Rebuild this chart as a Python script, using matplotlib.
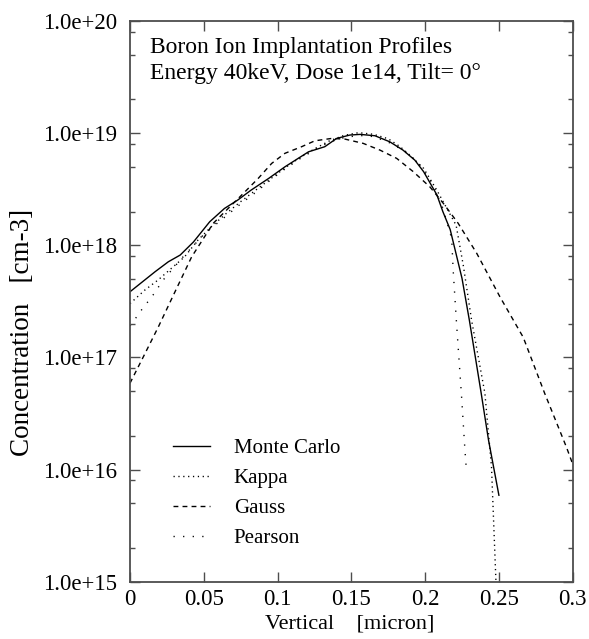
import numpy as np
import matplotlib
matplotlib.use("Agg")
import matplotlib.pyplot as plt
from matplotlib.ticker import LogLocator, FuncFormatter, MultipleLocator

plt.rcParams['font.family'] = ['Liberation Serif', 'DejaVu Serif']

# depth [micron] and concentration [cm-3]
mc_x = [0.000, 0.017, 0.026, 0.034, 0.043, 0.054, 0.064, 0.073, 0.082, 0.094,
        0.105, 0.121, 0.132, 0.140, 0.149, 0.156, 0.166, 0.176, 0.185, 0.193,
        0.199, 0.208, 0.212, 0.217, 0.225, 0.230, 0.238, 0.243, 0.250]
mc_c = [3.85e17, 5.81e17, 7.13e17, 8.18e17, 1.07e18, 1.62e18, 2.13e18, 2.53e18, 3.10e18, 3.95e18,
        5.01e18, 6.82e18, 7.57e18, 8.97e18, 9.62e18, 9.75e18, 9.48e18, 8.38e18, 7.06e18, 5.75e18,
        4.53e18, 2.81e18, 2.00e18, 1.38e18, 5.07e17, 2.14e17, 4.79e16, 1.82e16, 5.9e15]

kappa_x = [0.000, 0.010, 0.019, 0.028, 0.037, 0.046, 0.055, 0.065, 0.075, 0.085,
           0.095, 0.105, 0.115, 0.125, 0.135, 0.145, 0.155, 0.165, 0.175, 0.183,
           0.190, 0.199, 0.208, 0.221, 0.226, 0.2315, 0.2405, 0.245, 0.248]
kappa_c = [3.02e17, 3.98e17, 4.90e17, 6.22e17, 7.89e17, 1.11e18, 1.46e18, 1.91e18, 2.45e18, 3.09e18,
           3.89e18, 4.90e18, 6.03e18, 7.24e18, 8.51e18, 9.55e18, 1.01e19, 9.77e18, 8.91e18, 7.59e18,
           6.31e18, 4.85e18, 3.09e18, 1.51e18, 6.46e17, 2.14e17, 4.79e16, 1.05e16, 1.0e15]

gauss_x = [0.000, 0.0056, 0.009, 0.0192, 0.0305, 0.0418, 0.0564, 0.0779, 0.0869, 0.096,
           0.105, 0.1163, 0.1253, 0.1366, 0.1457, 0.158, 0.1694, 0.1807, 0.192, 0.2033,
           0.2123, 0.2224, 0.235, 0.2507, 0.2665, 0.281, 0.2958, 0.300]
gauss_c = [5.89e16, 8.24e16, 1.01e17, 1.87e17, 3.85e17, 7.89e17, 1.57e18, 3.00e18, 3.95e18, 5.37e18,
           6.61e18, 7.57e18, 8.55e18, 8.97e18, 8.85e18, 8.11e18, 7.06e18, 5.96e18, 4.53e18, 3.31e18,
           2.37e18, 1.57e18, 8.47e17, 3.47e17, 1.51e17, 4.79e16, 1.58e16, 1.12e16]

pearson_x = [0.000, 0.0045, 0.009, 0.0136, 0.018, 0.0214, 0.035, 0.0508, 0.0644, 0.075,
             0.085, 0.095, 0.105, 0.115, 0.125, 0.135, 0.145, 0.155, 0.165, 0.175,
             0.185, 0.195, 0.205, 0.212, 0.218, 0.219, 0.2213, 0.2247, 0.227, 0.228]
pearson_c = [1.91e17, 2.30e17, 2.79e17, 3.31e17, 3.98e17, 4.72e17, 7.64e17, 1.28e18, 1.79e18, 2.34e18,
             2.95e18, 3.80e18, 4.79e18, 5.89e18, 7.08e18, 8.32e18, 9.12e18, 9.55e18, 9.33e18, 8.32e18,
             7.08e18, 5.50e18, 3.55e18, 2.14e18, 1.15e18, 6.03e17, 2.00e17, 4.47e16, 1.48e16, 9.8e15]

x_ticks = [0, 0.05, 0.1, 0.15, 0.2, 0.25, 0.3]
x_ticklabels = ['0', '0.05', '0.1', '0.15', '0.2', '0.25', '0.3']

fig = plt.figure(figsize=(5.89, 6.39), dpi=100)
ax = fig.add_axes([0.2207, 0.0897, 0.7516, 0.8774])

ax.plot(mc_x, mc_c, color='black', lw=1.0, label='Monte Carlo')
ax.plot(kappa_x, kappa_c, color='black', lw=1.0, dashes=(0.9, 2.6), label='Kappa')
ax.plot(gauss_x, gauss_c, color='black', lw=1.0, dashes=(3.5, 3.0), label='Gauss')
ax.plot(pearson_x, pearson_c, color='black', lw=1.0, dashes=(0.9, 6.0), label='Pearson')

ax.set_yscale('log')
ax.set_xlim(0, 0.3)
ax.set_ylim(1e15, 1e20)
ax.set_xticks(x_ticks)
ax.set_xticklabels(x_ticklabels)
ax.yaxis.set_major_locator(LogLocator(base=10, numticks=10))
ax.yaxis.set_minor_locator(LogLocator(base=10, subs=(2.0, 5.0, 8.0), numticks=10))
ax.yaxis.set_major_formatter(FuncFormatter(lambda v, p: '%.1e' % v))
ax.yaxis.set_minor_formatter(FuncFormatter(lambda v, p: ''))

edge = '0.3'
for s in ax.spines.values():
    s.set_color(edge)
    s.set_linewidth(1.3)
ax.tick_params(which='both', direction='in', top=True, right=True, color=edge, width=1.0)
ax.tick_params(which='major', length=7.2, labelsize=16.5)
ax.tick_params(axis='y', which='major', pad=9)
ax.tick_params(axis='x', which='major', pad=5)
ax.tick_params(which='minor', length=3.6)

ax.set_xlabel('Vertical    [micron]', fontsize=16)
ax.set_ylabel('Concentration   [cm-3]', fontsize=19.5)
ax.xaxis.set_label_coords(0.496, -0.058)
ax.yaxis.set_label_coords(-0.2146, 0.445)

ax.text(0.045, 0.943, 'Boron Ion Implantation Profiles', transform=ax.transAxes,
        fontsize=17, va='baseline', ha='left')
ax.text(0.045, 0.896, 'Energy 40keV, Dose 1e14, Tilt= 0\u00b0', transform=ax.transAxes,
        fontsize=17, va='baseline', ha='left')

ax.legend(loc='center left', bbox_to_anchor=(0.097, 0.158), frameon=False,
          fontsize=15, handlelength=1.77, handletextpad=1.15, labelspacing=0.50,
          borderpad=0, borderaxespad=0)

fig.savefig('out.png', dpi=100)
